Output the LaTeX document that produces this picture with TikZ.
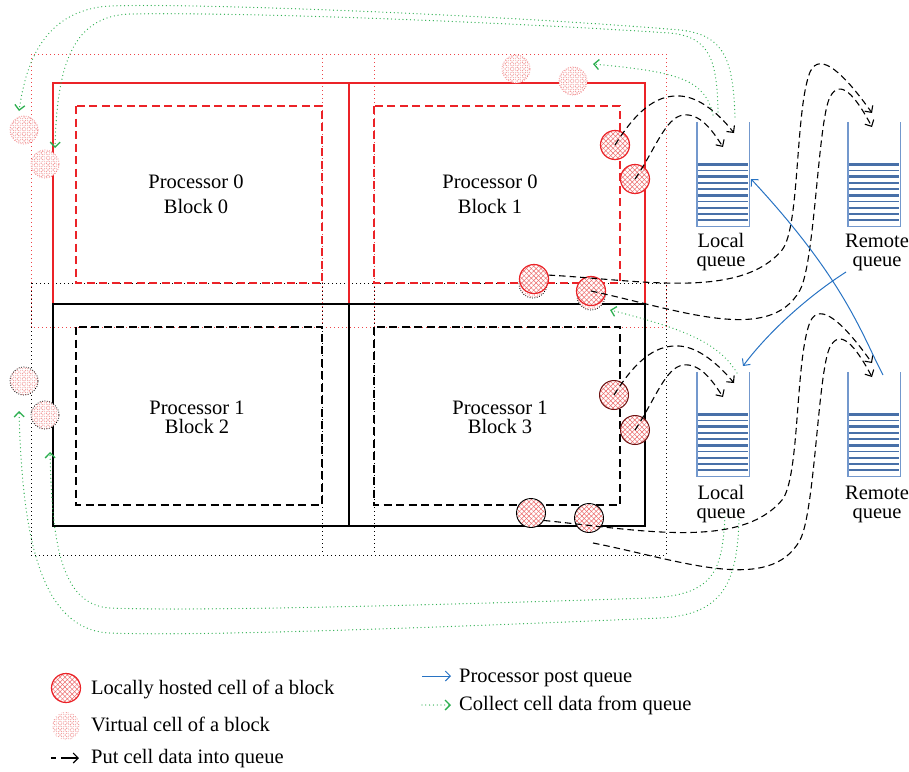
\documentclass[tikz,border=0pt]{standalone}
\usepackage{fontspec}
\setmainfont{Liberation Serif}
\usetikzlibrary{arrows.meta,patterns.meta,calc}
\definecolor{bred}{RGB}{235,35,40}
\definecolor{qedgec}{RGB}{115,152,205}
\definecolor{qstripec}{RGB}{72,112,168}
\definecolor{postblue}{RGB}{40,115,195}
\definecolor{collgreen}{RGB}{45,175,80}
\definecolor{hatchred}{RGB}{236,105,105}
\definecolor{darkcell}{RGB}{110,20,20}
\begin{document}
\begin{tikzpicture}[x=1pt,y=-1pt,
  blockred/.style={draw=bred, line width=2.6pt},
  blockblack/.style={draw=black, line width=2.6pt},
  innerred/.style={draw=bred, line width=1.1pt, dash pattern=on 8pt off 4.5pt},
  innerblack/.style={draw=black, line width=1.1pt, dash pattern=on 8pt off 4.5pt},
  halored/.style={draw=bred!85, line width=1pt, dash pattern=on 1pt off 3pt},
  haloblack/.style={draw=black, line width=1pt, dash pattern=on 1pt off 3pt},
  hatch/.style={preaction={fill=white},
    preaction={pattern color=#1, pattern={Lines[angle=45,distance=3.4pt,line width=0.5pt]}},
    preaction={pattern color=#1, pattern={Lines[angle=-45,distance=3.4pt,line width=0.5pt]}}},
  localcell/.style={circle, inner sep=0pt, minimum size=29pt, hatch=hatchred, draw=bred, line width=1.2pt},
  localcellb/.style={localcell, draw=darkcell, line width=1pt},
  localcellk/.style={localcell, draw=black, line width=0.9pt},
  virtcell/.style={circle, inner sep=0pt, minimum size=28pt, hatch=hatchred!85, draw=bred!55, line width=0.8pt, dash pattern=on 0.8pt off 1.6pt},
  virtcellb/.style={virtcell, draw=black},
  blocklabel/.style={inner sep=0pt, align=center, font=\fontsize{20.5}{#1}\selectfont},
  qlabel/.style={inner sep=0pt, align=center, font=\fontsize{20.5}{19}\selectfont},
  legtext/.style={inner sep=0pt, anchor=base west, font=\fontsize{20.5}{24}\selectfont},
  queuebox/.style={rectangle, draw=none, minimum width=52pt, minimum height=104pt, inner sep=0pt},
  qedge/.style={draw=qedgec, line width=1.4pt},
  qstripe/.style={draw=qstripec},
  putarrow/.style={draw=black, line width=1.1pt, dash pattern=on 6.5pt off 4pt, -{Straight Barb[length=5pt,width=10pt]}},
  postarrow/.style={draw=postblue, line width=1pt, -{Straight Barb[length=5pt,width=10pt]}},
  collectarrow/.style={draw=collgreen, line width=1.3pt, dash pattern=on 0pt off 3.8pt, line cap=round, -{Straight Barb[length=5pt,width=10pt]}}
]
\useasboundingbox (0,0) rectangle (909,771);

% halos
\draw[halored] (31,54) rectangle (666,327);
\draw[halored] (322,54) -- (322,327);
\draw[halored] (374,54) -- (374,327);
\draw[haloblack] (31,283) rectangle (666,555);
\draw[haloblack] (322,283) -- (322,555);
\draw[haloblack] (374,283) -- (374,555);

% inner dashed
\draw[innerred] (76,106) rectangle (322,283);
\draw[innerred] (374,106) rectangle (620,283);
\draw[innerblack] (76,327) rectangle (322,505);
\draw[innerblack] (374,327) rectangle (620,505);

% blocks
\draw[blockred] (53,83) rectangle (645,304);
\draw[blockred] (349,83) -- (349,304);
\draw[blockblack] (53,304) rectangle (645,526);
\draw[blockblack] (349,304) -- (349,526);

% labels
\node[blocklabel=25] (t0) at (196,194) {Processor 0\\Block 0};
\node[blocklabel=25] (t1) at (490,194) {Processor 0\\Block 1};
\node[blocklabel=19] (t2) at (197,417) {Processor 1\\Block 2};
\node[blocklabel=19] (t3) at (500,417) {Processor 1\\Block 3};

% virtual cells
\node[virtcell] (v1) at (516,69) {};
\node[virtcell] (v2) at (573,81) {};
\node[virtcell] (v3) at (24,130) {};
\node[virtcell] (v4) at (45,164) {};
\node[virtcellb] (v5) at (24,381) {};
\node[virtcellb] (v6) at (45,415) {};
\node[virtcellb] (v7) at (533,284) {};
\node[virtcellb] (v8) at (591,296) {};

% local cells
\node[localcell] (c1) at (615,145) {};
\node[localcell] (c2) at (635,179) {};
\node[localcell] (c3) at (534,279) {};
\node[localcell] (c4) at (591,291) {};
\node[localcellb] (c5) at (614,395) {};
\node[localcellb] (c6) at (635,430) {};
\node[localcellk] (c7) at (531,513) {};
\node[localcellk] (c8) at (589,518) {};

% queues
\node[queuebox] (lq1) at (723,174) {};
\node[queuebox] (rq1) at (874,174) {};
\node[queuebox] (lq2) at (723,424) {};
\node[queuebox] (rq2) at (874,424) {};
\foreach \q in {lq1,rq1,lq2,rq2}{
  \foreach \i/\w in {0/1.6,1/2.8,2/1.6,3/1.6,4/2.8,5/1.6,6/1.6,7/2.8,8/1.6,9/2.8}
    \draw[qstripe, line width=\w pt] ($(\q.south west)+(1,-6-\i*6.2)$) -- ($(\q.south east)+(-1,-6-\i*6.2)$);
  \draw[qedge] (\q.north west) -- (\q.south west) -- (\q.south east) -- (\q.north east);
}
\node[qlabel] (lql1) at (721,252) {Local\\queue};
\node[qlabel] (rql1) at (877,252) {Remote\\queue};
\node[qlabel] (lql2) at (721,504) {Local\\queue};
\node[qlabel] (rql2) at (877,504) {Remote\\queue};

% coordinates for free ends
\coordinate (lq1a) at (734,133);
\coordinate (lq1b) at (723,147);
\coordinate (rq1a) at (872,113);
\coordinate (rq1b) at (872,127);
\coordinate (lq2a) at (734,383);
\coordinate (lq2b) at (723,397);
\coordinate (rq2a) at (872,363);
\coordinate (rq2b) at (872,377);
\coordinate (s8) at (593,543);
\coordinate (bs1) at (883,375);
\coordinate (be1) at (751,179);
\coordinate (bs2) at (846,272);
\coordinate (be2) at (743,366);
\coordinate (gs1) at (735,117);
\coordinate (ge1) at (19,111);
\coordinate (gs2) at (718,112);
\coordinate (ge2) at (55,148);
\coordinate (gs3) at (713,115);
\coordinate (ge3) at (593,64);
\coordinate (gs4) at (737,373);
\coordinate (ge4) at (610,310);
\coordinate (gs5) at (725,517);
\coordinate (ge5) at (50,452);
\coordinate (gs6) at (739,520);
\coordinate (ge6) at (19,411);

% put cell data into queue
\draw[putarrow] (c1.center) .. controls (640,105) and (660,95) .. (680,96) .. controls (700,97) and (720,115) .. (lq1a);
\draw[putarrow] (c2.center) .. controls (655,150) and (665,118) .. (683,115) .. controls (700,113) and (712,130) .. (lq1b);
\draw[putarrow] (c3.15) .. controls (640,280) and (740,300) .. (782,250) .. controls (800,228) and (795,110) .. (810,72) .. controls (820,50) and (845,75) .. (rq1a);
\draw[putarrow] (c4.center) .. controls (680,310) and (770,345) .. (800,290) .. controls (815,262) and (818,120) .. (830,97) .. controls (840,78) and (855,95) .. (rq1b);
\draw[putarrow] (c5.center) .. controls (639,355) and (659,345) .. (679,346) .. controls (699,347) and (719,365) .. (lq2a);
\draw[putarrow] (c6.center) .. controls (655,400) and (665,368) .. (683,365) .. controls (700,363) and (712,380) .. (lq2b);
\draw[putarrow] (c7.-30) .. controls (640,530) and (740,550) .. (782,500) .. controls (800,478) and (795,360) .. (810,322) .. controls (820,300) and (845,325) .. (rq2a);
\draw[putarrow] (s8) .. controls (680,560) and (770,595) .. (800,540) .. controls (815,512) and (818,370) .. (830,347) .. controls (840,328) and (855,345) .. (rq2b);

% processor post queue
\draw[postarrow] (bs1) .. controls (862,335) and (845,280) .. (be1);
\draw[postarrow] (bs2) .. controls (810,295) and (770,330) .. (be2);

% collect cell data from queue
\draw[collectarrow] (gs1) .. controls (733,60) and (725,35) .. (680,30) .. controls (500,15) and (200,3) .. (110,6) .. controls (40,10) and (25,70) .. (ge1);
\draw[collectarrow] (gs2) .. controls (717,60) and (710,37) .. (670,33) .. controls (500,22) and (250,12) .. (130,14) .. controls (70,16) and (57,70) .. (ge2);
\draw[collectarrow] (gs3) .. controls (705,80) and (680,72) .. (ge3);
\draw[collectarrow] (gs4) .. controls (720,345) and (690,330) .. (ge4);
\draw[collectarrow] (gs5) .. controls (722,570) and (715,595) .. (650,598) .. controls (500,603) and (200,612) .. (110,608) .. controls (60,605) and (52,540) .. (ge5);
\draw[collectarrow] (gs6) .. controls (737,580) and (725,615) .. (660,618) .. controls (500,625) and (200,637) .. (110,633) .. controls (35,630) and (22,520) .. (ge6);

% legend
\node[localcell] (lg1) at (66,688) {};
\node[legtext] (lt1) at (91,694) {Locally hosted cell of a block};
\node[virtcell, draw=none] (lg2) at (66,726) {};
\node[legtext] (lt2) at (91,731) {Virtual cell of a block};
\coordinate (la1) at (51,758);
\coordinate (la2) at (79,758);
\draw[putarrow, dash pattern=on 5pt off 5pt on 20pt off 0pt] (la1) -- (la2);
\node[legtext] (lt3) at (91,763) {Put cell data into queue};
\coordinate (lb1) at (422,676);
\coordinate (lb2) at (451,676);
\draw[postarrow] (lb1) -- (lb2);
\node[legtext] (lt4) at (459,682) {Processor post queue};
\coordinate (lc1) at (422,705);
\coordinate (lc2) at (451,705);
\draw[collectarrow] (lc1) -- (lc2);
\node[legtext] (lt5) at (459,710) {Collect cell data from queue};
\end{tikzpicture}
\end{document}
